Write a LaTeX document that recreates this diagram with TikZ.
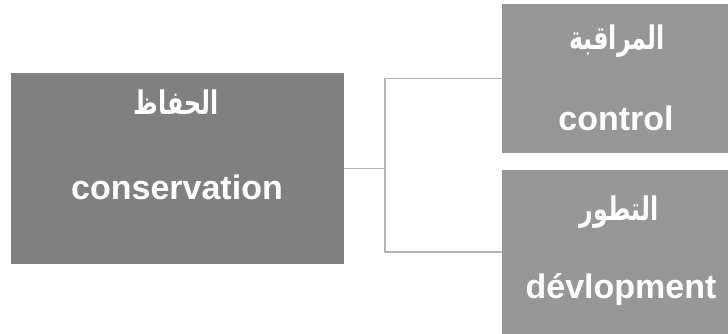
\documentclass[tikz,border=0pt]{standalone}
\usepackage{graphicx}
\usepackage{fontspec}
\setmainfont{Liberation Sans}
\newfontfamily\arabicfont[Script=Arabic]{DejaVu Sans}
\TeXXeTstate=1
\definecolor{darkbox}{HTML}{808080}
\definecolor{lightbox}{HTML}{979797}
\definecolor{linkgray}{HTML}{B4B4B4}
% Arabic captions are set a little condensed and taller
\newcommand{\arabcap}[1]{\scalebox{0.95}[1.3]{\arabicfont\beginR #1\endR}}
\tikzset{
  box/.style={rectangle, inner sep=0pt, draw=none},
  latin/.style={text=white, font=\fontsize{34}{36}\selectfont\bfseries, inner sep=0pt},
  arab/.style={text=white, font=\fontsize{25}{28}\selectfont\bfseries, inner sep=0pt},
  conn/.style={draw=linkgray, line width=1.4pt}
}
\begin{document}
\begin{tikzpicture}[x=1pt,y=1pt]
\useasboundingbox (0,0) rectangle (728,334);
% main box on the left
\node[box, fill=darkbox, minimum width=333pt, minimum height=191pt] (cons) at (177.5,165.5) {};
\node[arab] (consAr) at (176,232) {\arabcap{الحفاظ}};
\node[latin] (consEn) at (177,147) {conservation};
% two boxes on the right
\node[box, fill=lightbox, minimum width=226pt, minimum height=149pt] (ctrl) at (615,255.5) {};
\node[arab] (ctrlAr) at (617,293) {\arabcap{المراقبة}};
\node[latin] (ctrlEn) at (616,216) {control};
\node[box, fill=lightbox, minimum width=226pt, minimum height=164pt] (dev) at (615,82) {};
\node[arab] (devAr) at (619,122) {\arabcap{التطور}};
\node[latin] (devEn) at (621,44) {dévlopment};
% elbow connectors
\coordinate (j) at (385,165.5);
\draw[conn] (cons.east) -- (j) |- (ctrl.west);
\draw[conn] (j) |- (dev.west);
\end{tikzpicture}
\end{document}
